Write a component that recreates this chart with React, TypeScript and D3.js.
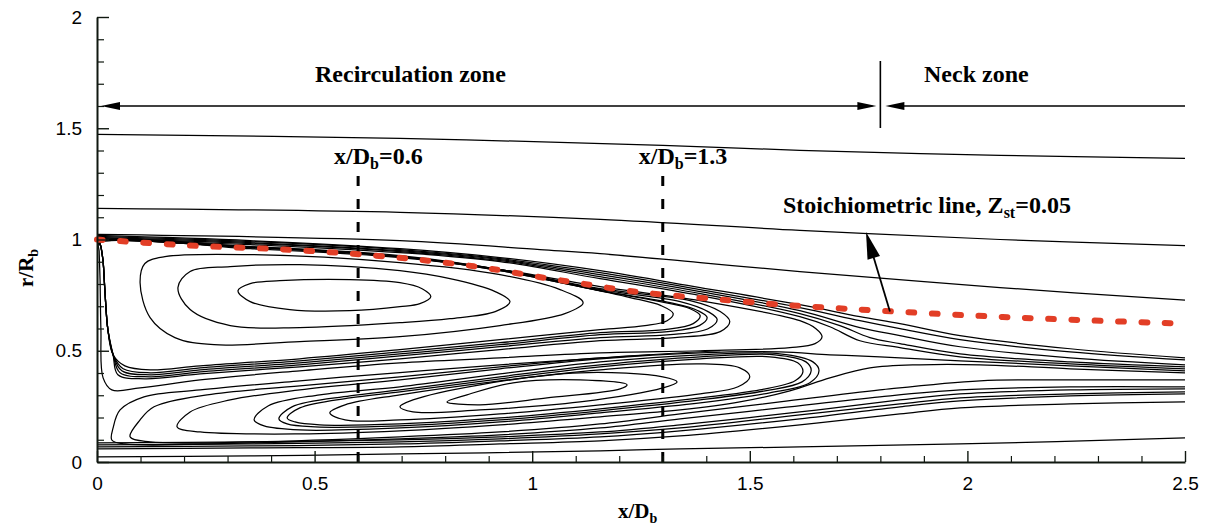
import React, { useEffect, useRef } from "react";
import * as d3 from "d3";

type Pt = [number, number];

// ---------- axes ----------
const xDomain: [number, number] = [0, 2.5];
const rDomain: [number, number] = [0, 2];
const xMajorTicks = [0, 0.5, 1, 1.5, 2, 2.5];
const xTickLabels = ["0", "0.5", "1", "1.5", "2", "2.5"];
const xMinorTicks = [0.1, 0.2, 0.3, 0.4, 0.6, 0.7, 0.8, 0.9, 1.1, 1.2, 1.3, 1.4, 1.6, 1.7, 1.8, 1.9, 2.1, 2.2, 2.3, 2.4];
const rMajorTicks = [0, 0.5, 1, 1.5, 2];
const rTickLabels = ["0", "0.5", "1", "1.5", "2"];
const rMinorTicks = [0.1, 0.2, 0.3, 0.4, 0.6, 0.7, 0.8, 0.9, 1.1, 1.2, 1.3, 1.4, 1.6, 1.7, 1.8, 1.9];

// ---------- annotations (data units) ----------
const probeStations = [0.6, 1.3];
const probeLabels = ["0.6", "1.3"];
const zoneBoundary = 1.8;

// ---------- streamlines, [x/Db, r/Rb] ----------
// free-stream lines above the bluff body
const outerStreamlines: Pt[][] = [
  [[0, 1.473], [0.696, 1.455], [1.3, 1.423], [1.615, 1.401], [2.075, 1.378], [2.5, 1.365]],
  [[0, 1.14], [0.696, 1.122], [1.156, 1.09], [1.615, 1.041], [2.075, 1.0], [2.5, 0.973]],
  [[0, 1.023], [0.696, 0.995], [1.018, 0.955], [1.156, 0.937], [1.386, 0.896], [1.615, 0.856], [2.075, 0.784], [2.5, 0.727]],
];

// shear-layer lines that run past the recirculation zone into the neck
const shearLayerStreamlines: Pt[][] = [
  [[0, 1.018], [0.352, 0.995], [0.696, 0.959], [0.926, 0.919], [1.156, 0.86], [1.386, 0.784], [1.615, 0.707], [1.753, 0.653], [1.845, 0.622], [1.983, 0.568], [2.236, 0.509], [2.5, 0.468]],
  [[0, 1.014], [0.352, 0.991], [0.696, 0.955], [0.926, 0.914], [1.156, 0.851], [1.386, 0.775], [1.615, 0.694], [1.753, 0.635], [1.845, 0.599], [1.983, 0.55], [2.236, 0.495], [2.5, 0.459]],
  [[0, 1.009], [0.352, 0.986], [0.696, 0.95], [0.926, 0.91], [1.156, 0.842], [1.386, 0.766], [1.615, 0.68], [1.753, 0.604], [1.845, 0.568], [1.983, 0.518], [2.236, 0.468], [2.5, 0.437]],
  [[0, 1.005], [0.352, 0.982], [0.696, 0.946], [0.926, 0.905], [1.156, 0.833], [1.386, 0.757], [1.615, 0.667], [1.707, 0.613], [1.776, 0.559], [1.845, 0.532], [1.983, 0.486], [2.236, 0.45], [2.5, 0.428]],
  [[0, 1.0], [0.352, 0.977], [0.696, 0.941], [0.926, 0.901], [1.156, 0.824], [1.386, 0.748], [1.615, 0.653], [1.684, 0.608], [1.753, 0.545], [1.845, 0.514], [1.983, 0.473], [2.236, 0.441], [2.5, 0.419]],
];

// outer vortex: closed loops
const upperVortexLoops: Pt[][] = [
  [[0.324, 0.77], [0.352, 0.802], [0.42, 0.815], [0.581, 0.82], [0.696, 0.806], [0.747, 0.779], [0.767, 0.743], [0.742, 0.712], [0.696, 0.698], [0.581, 0.68], [0.443, 0.685], [0.352, 0.721]],
  [[0.186, 0.784], [0.214, 0.856], [0.306, 0.878], [0.466, 0.887], [0.696, 0.86], [0.811, 0.824], [0.915, 0.766], [0.949, 0.721], [0.915, 0.676], [0.811, 0.644], [0.696, 0.626], [0.466, 0.604], [0.306, 0.613], [0.214, 0.685]],
  [[0.099, 0.806], [0.11, 0.892], [0.156, 0.923], [0.352, 0.932], [0.696, 0.896], [0.926, 0.842], [1.064, 0.775], [1.117, 0.716], [1.075, 0.667], [0.926, 0.613], [0.696, 0.563], [0.466, 0.541], [0.269, 0.527], [0.179, 0.559], [0.122, 0.649]],
  [[0.007, 0.991], [0.352, 0.968], [0.696, 0.923], [0.926, 0.86], [1.11, 0.788], [1.225, 0.739], [1.296, 0.703], [1.324, 0.667], [1.31, 0.635], [1.259, 0.613], [1.156, 0.595], [0.926, 0.55], [0.696, 0.505], [0.466, 0.464], [0.237, 0.432], [0.122, 0.414], [0.064, 0.432], [0.037, 0.482], [0.025, 0.595], [0.018, 0.775], [0.014, 0.901], [0.009, 0.968]],
  [[0.007, 0.991], [0.352, 0.968], [0.696, 0.928], [0.926, 0.865], [1.156, 0.77], [1.294, 0.721], [1.363, 0.689], [1.386, 0.658], [1.37, 0.622], [1.305, 0.595], [1.156, 0.581], [0.926, 0.536], [0.696, 0.495], [0.466, 0.455], [0.237, 0.423], [0.122, 0.401], [0.06, 0.419], [0.037, 0.482], [0.025, 0.595], [0.018, 0.775], [0.014, 0.901], [0.009, 0.968]],
  [[0.007, 0.986], [0.352, 0.964], [0.696, 0.923], [0.926, 0.86], [1.156, 0.77], [1.317, 0.716], [1.381, 0.68], [1.402, 0.649], [1.384, 0.613], [1.312, 0.586], [1.156, 0.572], [0.926, 0.527], [0.696, 0.486], [0.466, 0.446], [0.237, 0.414], [0.122, 0.392], [0.057, 0.41], [0.037, 0.482], [0.025, 0.595], [0.018, 0.775], [0.014, 0.901], [0.009, 0.968]],
  [[0.007, 0.986], [0.352, 0.964], [0.696, 0.923], [0.926, 0.865], [1.156, 0.775], [1.34, 0.721], [1.404, 0.676], [1.425, 0.64], [1.404, 0.599], [1.317, 0.572], [1.156, 0.559], [0.926, 0.518], [0.696, 0.477], [0.466, 0.437], [0.237, 0.405], [0.122, 0.383], [0.053, 0.401], [0.037, 0.482], [0.025, 0.595], [0.018, 0.775], [0.014, 0.901], [0.009, 0.968]],
  [[0.005, 0.986], [0.352, 0.964], [0.696, 0.923], [0.926, 0.865], [1.156, 0.779], [1.363, 0.725], [1.432, 0.676], [1.454, 0.631], [1.432, 0.586], [1.328, 0.559], [1.156, 0.545], [0.926, 0.505], [0.696, 0.464], [0.466, 0.428], [0.237, 0.396], [0.11, 0.374], [0.048, 0.392], [0.037, 0.482], [0.025, 0.595], [0.018, 0.775], [0.014, 0.901], [0.009, 0.968]],
  [[0.005, 0.986], [0.352, 0.959], [0.696, 0.919], [0.926, 0.865], [1.156, 0.788], [1.386, 0.725], [1.615, 0.635], [1.652, 0.599], [1.666, 0.563], [1.65, 0.532], [1.592, 0.514], [1.386, 0.5], [1.156, 0.491], [0.926, 0.468], [0.696, 0.446], [0.466, 0.41], [0.237, 0.369], [0.099, 0.333], [0.034, 0.324], [0.014, 0.378], [0.009, 0.595], [0.007, 0.82], [0.005, 0.946]],
];

// inner vortex: closed loops
const lowerVortexLoops: Pt[][] = [
  [[0.804, 0.27], [0.85, 0.302], [0.956, 0.356], [1.11, 0.369], [1.218, 0.347], [1.202, 0.329], [1.034, 0.288], [0.88, 0.257]],
  [[0.696, 0.248], [0.726, 0.279], [0.88, 0.347], [1.11, 0.401], [1.3, 0.383], [1.333, 0.36], [1.3, 0.333], [1.11, 0.27], [0.88, 0.234], [0.726, 0.225]],
  [[0.535, 0.221], [0.57, 0.257], [0.696, 0.302], [0.926, 0.365], [1.156, 0.414], [1.386, 0.441], [1.477, 0.423], [1.5, 0.383], [1.473, 0.338], [1.386, 0.306], [1.156, 0.257], [0.926, 0.216], [0.696, 0.189], [0.57, 0.189]],
  [[0.437, 0.198], [0.466, 0.243], [0.581, 0.288], [0.696, 0.315], [0.926, 0.374], [1.156, 0.428], [1.386, 0.464], [1.546, 0.473], [1.61, 0.446], [1.622, 0.405], [1.604, 0.365], [1.523, 0.324], [1.386, 0.288], [1.156, 0.239], [0.926, 0.198], [0.696, 0.171], [0.512, 0.167], [0.455, 0.18]],
  [[0.418, 0.194], [0.448, 0.248], [0.581, 0.297], [0.696, 0.324], [0.926, 0.383], [1.156, 0.437], [1.386, 0.473], [1.558, 0.482], [1.629, 0.45], [1.641, 0.41], [1.62, 0.36], [1.535, 0.32], [1.386, 0.279], [1.156, 0.23], [0.926, 0.189], [0.696, 0.162], [0.501, 0.158], [0.437, 0.171]],
  [[0.361, 0.189], [0.393, 0.252], [0.512, 0.302], [0.696, 0.338], [0.926, 0.396], [1.156, 0.45], [1.386, 0.482], [1.569, 0.486], [1.645, 0.45], [1.659, 0.41], [1.638, 0.356], [1.546, 0.311], [1.386, 0.266], [1.156, 0.221], [0.926, 0.18], [0.696, 0.153], [0.466, 0.144], [0.384, 0.162]],
];

// hairpin lines wrapping the inner vortex from the base corner
const hairpinStreamlines: Pt[][] = [
  [[2.5, 0.41], [2.236, 0.432], [1.983, 0.455], [1.799, 0.473], [1.684, 0.482], [1.569, 0.495], [1.386, 0.491], [1.156, 0.464], [0.926, 0.419], [0.696, 0.369], [0.466, 0.324], [0.306, 0.279], [0.214, 0.225], [0.184, 0.158], [0.237, 0.135], [0.466, 0.126], [0.696, 0.14], [0.926, 0.167], [1.156, 0.203], [1.34, 0.234], [1.477, 0.27], [1.592, 0.32], [1.684, 0.378], [1.776, 0.423], [1.891, 0.437], [2.029, 0.437], [2.236, 0.419], [2.5, 0.401]],
  [[1.432, 0.5], [1.156, 0.468], [0.926, 0.428], [0.696, 0.383], [0.466, 0.342], [0.253, 0.302], [0.131, 0.248], [0.099, 0.189], [0.076, 0.113], [0.122, 0.09], [0.352, 0.09], [0.696, 0.113], [0.926, 0.135], [1.156, 0.171], [1.34, 0.216], [1.569, 0.27], [1.799, 0.324], [2.029, 0.365], [2.236, 0.369], [2.5, 0.369]],
  [[1.271, 0.482], [0.926, 0.437], [0.689, 0.401], [0.466, 0.365], [0.237, 0.324], [0.108, 0.293], [0.053, 0.234], [0.037, 0.153], [0.034, 0.099], [0.064, 0.081], [0.352, 0.086], [0.696, 0.104], [0.926, 0.122], [1.156, 0.153], [1.34, 0.194], [1.569, 0.243], [1.799, 0.293], [1.983, 0.324], [2.236, 0.338], [2.5, 0.338]],
];

// central jet lines
const jetStreamlines: Pt[][] = [
  [[0, 0.086], [0.352, 0.09], [0.696, 0.099], [0.926, 0.113], [1.156, 0.135], [1.34, 0.167], [1.615, 0.225], [1.845, 0.279], [1.983, 0.306], [2.236, 0.324], [2.5, 0.329]],
  [[0, 0.077], [0.352, 0.081], [0.696, 0.09], [0.926, 0.104], [1.156, 0.126], [1.34, 0.153], [1.615, 0.212], [1.845, 0.261], [1.983, 0.288], [2.236, 0.306], [2.5, 0.315]],
  [[0, 0.068], [0.352, 0.072], [0.696, 0.081], [0.926, 0.095], [1.156, 0.113], [1.34, 0.14], [1.615, 0.194], [1.845, 0.248], [1.983, 0.275], [2.236, 0.297], [2.5, 0.306]],
  [[0, 0.059], [0.352, 0.063], [0.696, 0.068], [0.926, 0.081], [1.156, 0.095], [1.34, 0.117], [1.615, 0.167], [1.845, 0.216], [1.983, 0.243], [2.236, 0.261], [2.5, 0.27]],
  [[0, 0.023], [0.352, 0.027], [0.696, 0.036], [1.156, 0.05], [1.34, 0.059], [1.615, 0.068], [1.983, 0.081], [2.5, 0.108]],
];

// stoichiometric mixture-fraction contour
const stoichX = [0, 0.214, 0.43, 0.638, 0.8, 0.903, 1.011, 1.114, 1.218, 1.324, 1.431, 1.539, 1.643, 1.799, 2.013, 2.229, 2.5];
const stoichR = [1.0, 0.973, 0.955, 0.928, 0.896, 0.869, 0.833, 0.802, 0.77, 0.748, 0.73, 0.712, 0.698, 0.68, 0.658, 0.64, 0.622];

const WIDTH = 1205;
const HEIGHT = 527;
const AXIS_COLOR = "#101810";
const SERIF = "'Liberation Serif', 'Times New Roman', Times, serif";
const SANS = "'Liberation Sans', Arial, Helvetica, sans-serif";

const x = d3.scaleLinear().domain(xDomain).range([97, 1185]);
const y = d3.scaleLinear().domain(rDomain).range([462, 17]);

const openLine = d3
  .line<Pt>()
  .x((d) => x(d[0]))
  .y((d) => y(d[1]))
  .curve(d3.curveCatmullRom.alpha(0.5));
const closedLine = d3
  .line<Pt>()
  .x((d) => x(d[0]))
  .y((d) => y(d[1]))
  .curve(d3.curveCatmullRomClosed.alpha(0.5));

function arrowHead(tipX: number, tipY: number, dirX: number, dirY: number, len: number, half: number) {
  const n = Math.hypot(dirX, dirY);
  const ux = dirX / n;
  const uy = dirY / n;
  const bx = tipX - ux * len;
  const by = tipY - uy * len;
  const px = -uy * half;
  const py = ux * half;
  return `M${tipX},${tipY}L${bx + px},${by + py}L${bx - px},${by - py}Z`;
}

export default function App() {
  const xAxisRef = useRef<SVGGElement>(null);
  const xMinorRef = useRef<SVGGElement>(null);
  const yAxisRef = useRef<SVGGElement>(null);
  const yMinorRef = useRef<SVGGElement>(null);

  useEffect(() => {
    const style = (g: d3.Selection<SVGGElement, unknown, null, undefined>) => {
      g.attr("font-family", SANS).attr("font-size", 19);
      g.selectAll("text").attr("fill", "#000");
      g.selectAll(".tick line").attr("stroke", AXIS_COLOR).attr("stroke-width", 1.4);
      g.select(".domain").attr("stroke", AXIS_COLOR).attr("stroke-width", 2);
    };
    const gx = d3.select(xAxisRef.current!);
    gx.call(
      d3
        .axisBottom(x)
        .tickValues(xMajorTicks)
        .tickFormat((_d, i) => xTickLabels[i])
        .tickSizeInner(-11)
        .tickSizeOuter(0)
        .tickPadding(14.5)
    );
    style(gx);
    const gxm = d3.select(xMinorRef.current!);
    gxm.call(d3.axisBottom(x).tickValues(xMinorTicks).tickFormat(() => "").tickSizeInner(-6).tickSizeOuter(0));
    gxm.select(".domain").remove();
    gxm.selectAll(".tick line").attr("stroke", AXIS_COLOR).attr("stroke-width", 1.2);

    const gy = d3.select(yAxisRef.current!);
    gy.call(
      d3
        .axisLeft(y)
        .tickValues(rMajorTicks)
        .tickFormat((_d, i) => rTickLabels[i])
        .tickSizeInner(-12)
        .tickSizeOuter(0)
        .tickPadding(15)
    );
    style(gy);
    const gym = d3.select(yMinorRef.current!);
    gym.call(d3.axisLeft(y).tickValues(rMinorTicks).tickFormat(() => "").tickSizeInner(-7).tickSizeOuter(0));
    gym.select(".domain").remove();
    gym.selectAll(".tick line").attr("stroke", AXIS_COLOR).attr("stroke-width", 1.2);
  }, []);

  const stoichPts: Pt[] = stoichX.map((v, i) => [v, stoichR[i]]);

  const zoneY = 106;
  const xL = x(0) + 4;
  const xB = x(zoneBoundary);
  const xR = x(2.5);

  // arrow pointing at the stoichiometric line
  const tailX = x(1.822);
  const tailY = y(0.676);
  const tipX = x(1.767);
  const tipY = y(1.034);

  const streamStyle = { fill: "none", stroke: "#000", strokeWidth: 1.25 };

  return (
    <svg
      width={WIDTH}
      height={HEIGHT}
      viewBox={`0 0 ${WIDTH} ${HEIGHT}`}
      style={{ position: "absolute", left: 0, top: 0, background: "#fff" }}
    >
      <rect width={WIDTH} height={HEIGHT} fill="#fff" />
      <defs>
        <clipPath id="plotArea">
          <rect x={x(0)} y={0} width={x(2.5) - x(0) + 1} height={y(0)} />
        </clipPath>
      </defs>

      <g clipPath="url(#plotArea)">
        {outerStreamlines.map((l, i) => (
          <path key={`o${i}`} d={openLine(l) ?? ""} {...streamStyle} />
        ))}
        {shearLayerStreamlines.map((l, i) => (
          <path key={`s${i}`} d={openLine(l) ?? ""} {...streamStyle} />
        ))}
        {upperVortexLoops.map((l, i) => (
          <path key={`u${i}`} d={closedLine(l) ?? ""} {...streamStyle} />
        ))}
        {lowerVortexLoops.map((l, i) => (
          <path key={`l${i}`} d={closedLine(l) ?? ""} {...streamStyle} />
        ))}
        {hairpinStreamlines.map((l, i) => (
          <path key={`h${i}`} d={openLine(l) ?? ""} {...streamStyle} />
        ))}
        {jetStreamlines.map((l, i) => (
          <path key={`j${i}`} d={openLine(l) ?? ""} {...streamStyle} />
        ))}
      </g>

      {/* probe stations */}
      {probeStations.map((p, i) => (
        <g key={`p${i}`}>
          <line
            x1={x(p)}
            x2={x(p)}
            y1={176}
            y2={y(0)}
            stroke="#000"
            strokeWidth={3}
            strokeDasharray="10 13"
          />
          <text x={x(p) - 24} y={164} fontFamily={SERIF} fontWeight="bold" fontSize={24}>
            x/D
            <tspan fontSize={16} dy={5}>b</tspan>
            <tspan dy={-5}>={probeLabels[i]}</tspan>
          </text>
        </g>
      ))}

      {/* stoichiometric line */}
      <path
        d={openLine(stoichPts) ?? ""}
        fill="none"
        stroke="#e23e26"
        strokeWidth={6}
        strokeLinecap="round"
        strokeDasharray="5.7 17.6"
      />

      {/* axes */}
      <g ref={xMinorRef} transform={`translate(0,${y(0)})`} />
      <g ref={yMinorRef} transform={`translate(${x(0)},0)`} />
      <g ref={xAxisRef} transform={`translate(0,${y(0)})`} />
      <g ref={yAxisRef} transform={`translate(${x(0)},0)`} />

      {/* zone markers */}
      <line x1={xL + 10} x2={xB - 8} y1={zoneY} y2={zoneY} stroke="#000" strokeWidth={1.6} />
      <path d={arrowHead(xL, zoneY, -1, 0, 19, 4)} fill="#000" />
      <path d={arrowHead(xB - 4, zoneY, 1, 0, 19, 4)} fill="#000" />
      <line x1={xB} x2={xB} y1={61} y2={128} stroke="#000" strokeWidth={1.6} />
      <line x1={xB + 14} x2={xR} y1={zoneY} y2={zoneY} stroke="#000" strokeWidth={1.6} />
      <path d={arrowHead(xB + 5, zoneY, -1, 0, 19, 4)} fill="#000" />
      <text x={315} y={82} fontFamily={SERIF} fontWeight="bold" fontSize={24}>
        Recirculation zone
      </text>
      <text x={924} y={82} fontFamily={SERIF} fontWeight="bold" fontSize={24}>
        Neck zone
      </text>

      {/* stoichiometric annotation */}
      <line x1={tailX} y1={tailY} x2={tipX + (tailX - tipX) * 0.25} y2={tipY + (tailY - tipY) * 0.25} stroke="#000" strokeWidth={1.8} />
      <path d={arrowHead(tipX, tipY, tipX - tailX, tipY - tailY, 27, 6.5)} fill="#000" />
      <text x={783} y={213} fontFamily={SERIF} fontWeight="bold" fontSize={24}>
        Stoichiometric line, Z
        <tspan fontSize={16} dy={5}>st</tspan>
        <tspan dy={-5}>=0.05</tspan>
      </text>

      {/* axis titles */}
      <text x={618} y={518} fontFamily={SERIF} fontWeight="bold" fontSize={21}>
        x/D
        <tspan fontSize={14} dy={5}>b</tspan>
      </text>
      <text
        transform={`translate(33,${287}) rotate(-90)`}
        fontFamily={SERIF}
        fontWeight="bold"
        fontSize={21}
      >
        r/R
        <tspan fontSize={14} dy={5}>b</tspan>
      </text>
    </svg>
  );
}
